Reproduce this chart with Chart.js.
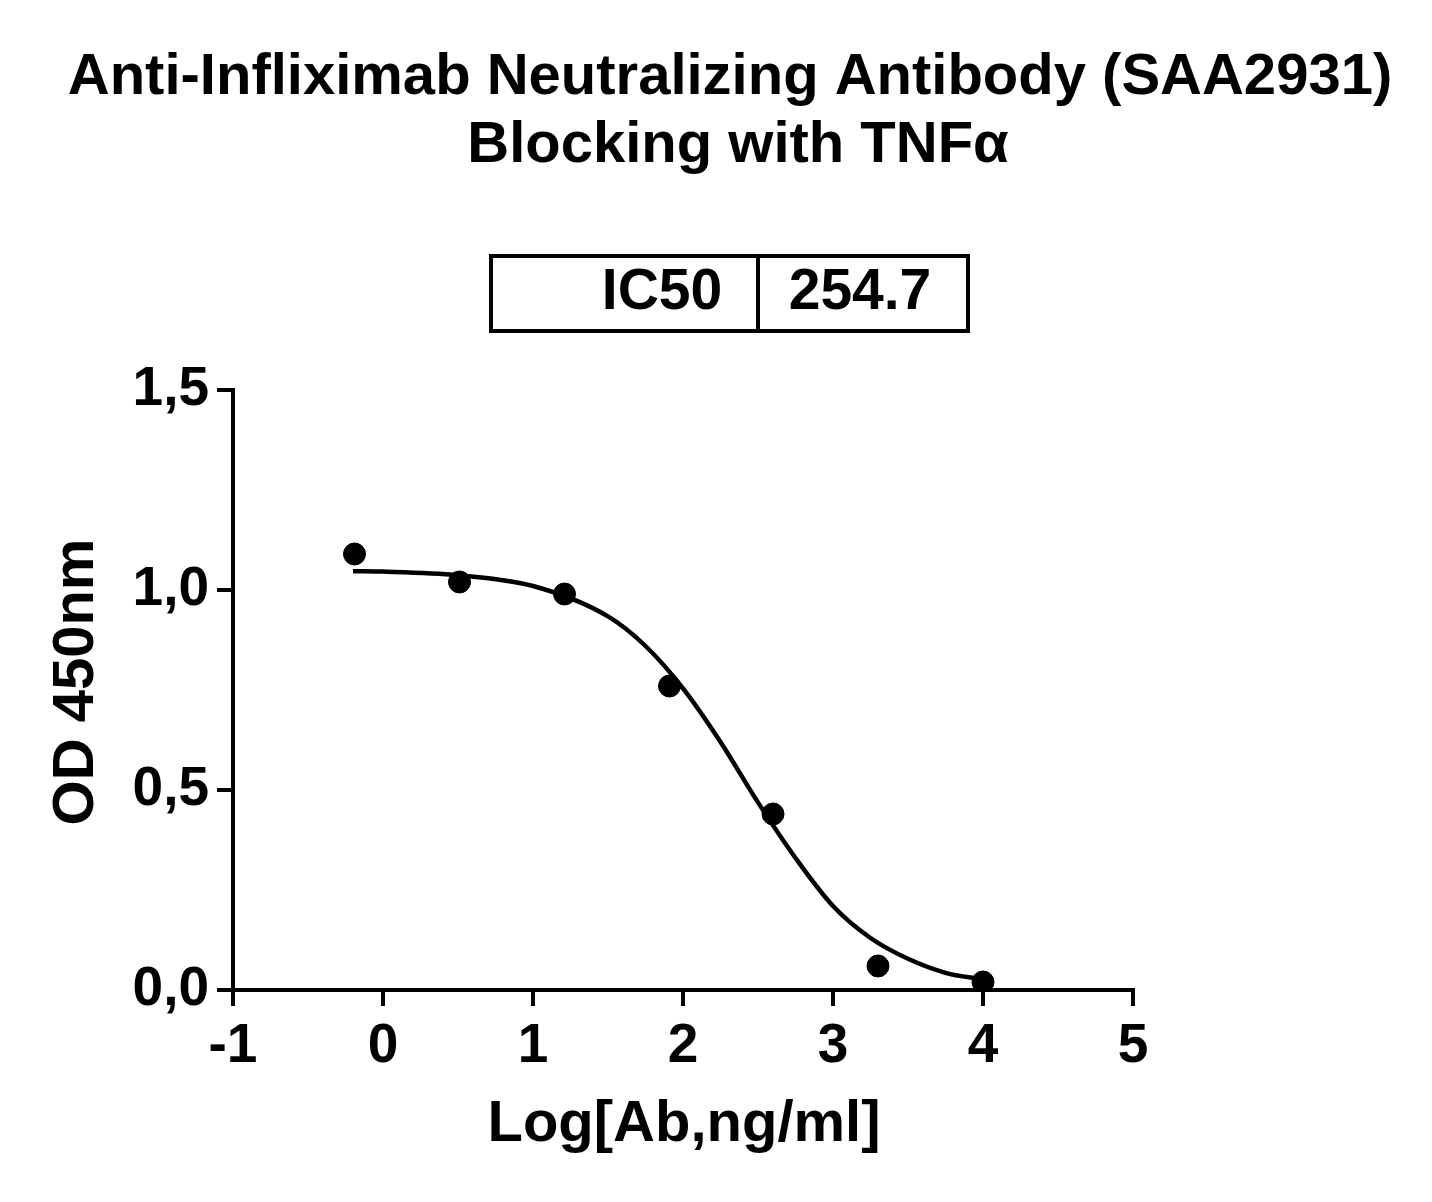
<!DOCTYPE html>
<html><head><meta charset="utf-8">
<script src="https://cdn.jsdelivr.net/npm/chart.js@4/dist/chart.umd.min.js"></script>
<style>html,body{margin:0;padding:0;background:#fff}</style>
</head><body>
<canvas id="c" width="1432" height="1202" style="width:1432px;height:1202px"></canvas>
<script>
const pointX = [-0.19, 0.51, 1.21, 1.91, 2.6, 3.3, 4.0];
const pointY = [1.09, 1.02, 0.99, 0.76, 0.44, 0.06, 0.02];
const curveX = [-0.2, 0, 0.5, 1.0, 1.5, 1.75, 2.0, 2.25, 2.5, 2.75, 3.0, 3.25, 3.5, 3.75, 4.0];
const curveY = [1.047, 1.046, 1.037, 1.01, 0.934, 0.86, 0.754, 0.62, 0.469, 0.33, 0.21, 0.13, 0.078, 0.043, 0.026];
const xTicks = [-1, 0, 1, 2, 3, 4, 5];
const yTicks = [0, 0.5, 1.0, 1.5];
const titleLines = ["Anti-Infliximab Neutralizing Antibody (SAA2931)", "Blocking with TNFα"];
const ic50Label = "IC50", ic50Value = "254.7";
const xTitle = "Log[Ab,ng/ml]", yTitle = "OD 450nm";
const F = "'Liberation Sans', Arial, sans-serif";

const deco = {
  id: 'deco',
  afterDraw(chart) {
    const c = chart.ctx;
    c.save();
    c.fillStyle = '#000';
    c.textAlign = 'center'; c.textBaseline = 'middle';
    c.font = `bold 58px ${F}`;
    c.fillText(titleLines[0], 730, 78);
    c.fillText(titleLines[1], 738, 146);
    c.lineWidth = 4; c.strokeStyle = '#000';
    c.strokeRect(491, 256, 477, 75);
    c.beginPath(); c.moveTo(758, 256); c.lineTo(758, 331); c.stroke();
    c.font = `bold 57px ${F}`;
    c.fillText(ic50Label, 662, 293);
    c.fillText(ic50Value, 860, 293);
    c.font = `bold 58px ${F}`;
    c.fillText(xTitle, 684, 1125);
    c.translate(77, 682); c.rotate(-Math.PI/2);
    c.fillText(yTitle, 0, 0);
    c.restore();
  }
};

const axisCommon = {
  grid: {drawOnChartArea: false, drawTicks: true, tickLength: 16, color: '#000', lineWidth: 4},
  border: {color: '#000', width: 4},
  ticks: {color: '#000', font: {family: F, weight: 'bold', size: 55}}
};

new Chart(document.getElementById('c'), {
  type: 'scatter',
  data: {datasets: [
    {type: 'line', data: curveX.map((x, i) => ({x, y: curveY[i]})), borderColor: '#000', borderWidth: 4.5, pointRadius: 0, cubicInterpolationMode: 'monotone', fill: false},
    {data: pointX.map((x, i) => ({x, y: pointY[i]})), backgroundColor: '#000', borderColor: '#000', pointRadius: 11}
  ]},
  options: {
    responsive: false, animation: false, devicePixelRatio: 1,
    layout: {padding: {top: 390, right: 299, left: 0, bottom: 0}},
    plugins: {legend: {display: false}, tooltip: {enabled: false}},
    scales: {
      x: {...axisCommon, type: 'linear', min: -1, max: 5,
        afterBuildTicks: s => { s.ticks = xTicks.map(v => ({value: v})); },
        afterFit: s => { s.height = 212; },
        ticks: {...axisCommon.ticks, padding: 8, callback: v => String(v)}},
      y: {...axisCommon, type: 'linear', min: 0, max: 1.5,
        afterBuildTicks: s => { s.ticks = yTicks.map(v => ({value: v})); },
        afterFit: s => { s.width = 233; },
        ticks: {...axisCommon.ticks, padding: 8, callback: v => v.toFixed(1).replace('.', ',')}}
    }
  },
  plugins: [deco]
});
</script>
</body></html>
